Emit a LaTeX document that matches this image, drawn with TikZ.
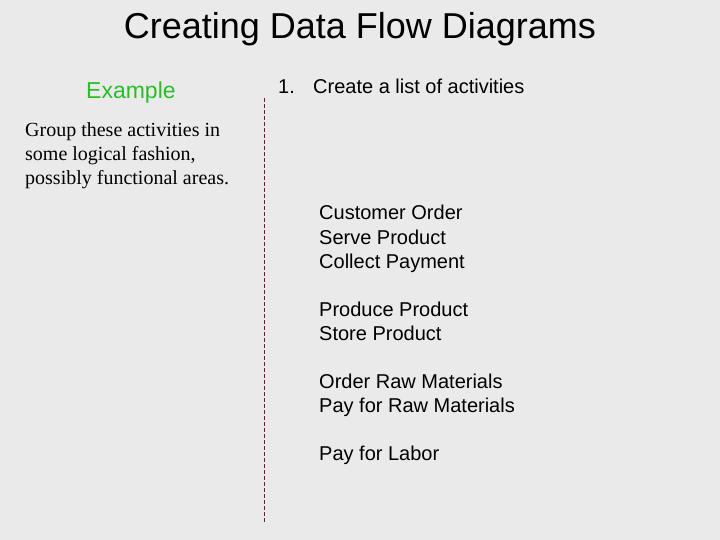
\documentclass[tikz,border=0pt]{standalone}
\usepackage{fontspec}
\setmainfont{Liberation Serif}
\setsansfont{Liberation Sans}
\usetikzlibrary{positioning}
\definecolor{slidegray}{RGB}{234,234,234}
\definecolor{examplegreen}{RGB}{40,190,40}
\definecolor{dashred}{RGB}{128,24,40}
\begin{document}
\begin{tikzpicture}[x=1pt, y=-1pt,
  every node/.style = {inner sep=0pt, anchor=base west, align=left},
  heading/.style = {font=\sffamily\fontsize{36}{40}\selectfont, anchor=base},
  tag/.style = {font=\sffamily\fontsize{23}{27}\selectfont, text=examplegreen},
  note/.style = {font=\rmfamily\fontsize{20}{24}\selectfont},
  actlist/.style = {font=\sffamily\fontsize{20}{24}\selectfont}]
  \fill[slidegray] (0,0) rectangle (720,540);
  \useasboundingbox (0,0) rectangle (720,540);
  \node[heading] (title) at (360,39) {Creating Data Flow Diagrams};
  \node[tag] (example) at (86,99) {Example};
  \node[actlist] (task) at (278,94) {\makebox[35pt][l]{1.}Create a list of activities};
  \node[note] (group) at (25,185) {Group these activities in\\some logical fashion,\\possibly functional areas.};
  % activity groups
  \node[actlist] (sales) at (319,268) {Customer Order\\Serve Product\\Collect Payment};
  \node[actlist] (prod) at (319,340) {Produce Product\\Store Product};
  \node[actlist] (purch) at (319,412) {Order Raw Materials\\Pay for Raw Materials};
  \node[actlist] (labor) at (319,460) {Pay for Labor};
  % divider
  \coordinate (divtop) at (264,98);
  \coordinate (divbot) at (264,522);
  \draw[dashred, line width=1pt, dash pattern=on 4pt off 2pt] (divtop) -- (divbot);
\end{tikzpicture}
\end{document}
